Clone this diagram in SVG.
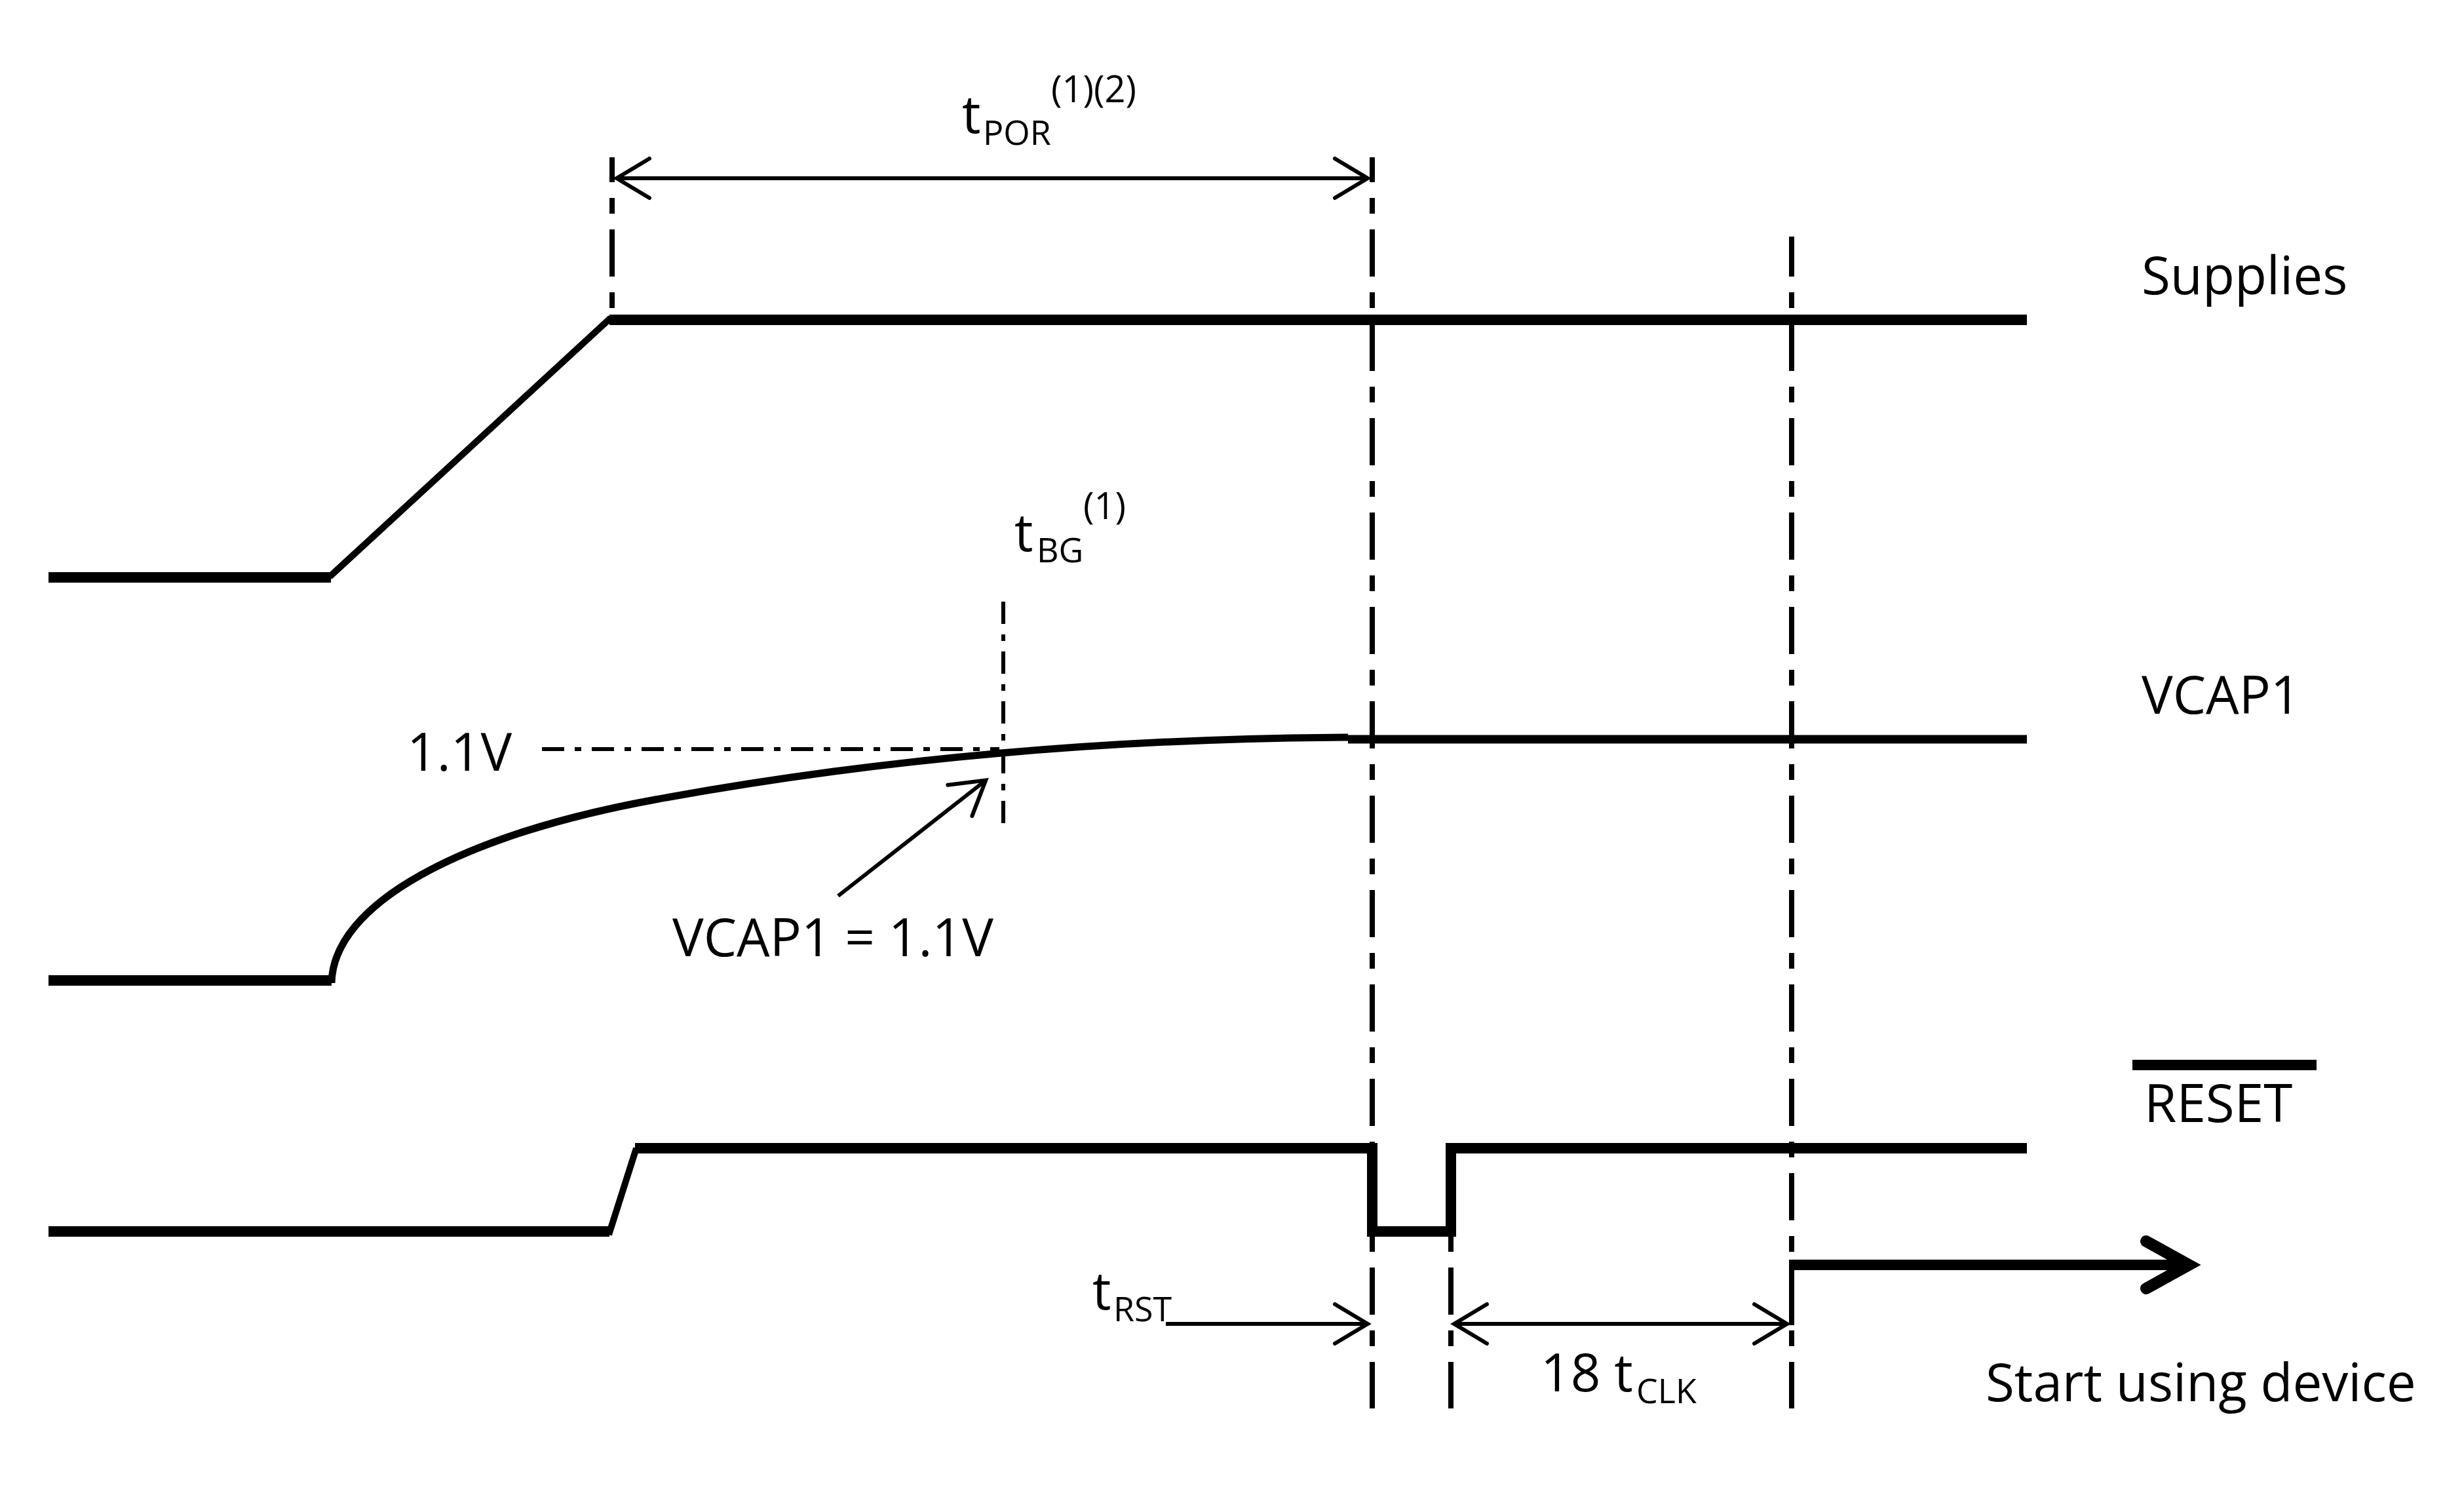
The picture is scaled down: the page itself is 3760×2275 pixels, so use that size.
<svg xmlns="http://www.w3.org/2000/svg" width="3760" height="2275" viewBox="0 0 3760 2275">
<defs>
<style>
.sig{fill:none;stroke:#000;stroke-width:16;stroke-linejoin:miter;stroke-linecap:butt}
.edge{fill:none;stroke:#000;stroke-width:10}
.ref{fill:none;stroke:#000;stroke-width:8;stroke-dasharray:72 24 24 24}
.thin{fill:none;stroke:#000;stroke-width:6}
.dd{fill:none;stroke:#000;stroke-width:6;stroke-dasharray:34 16 10 16}
text{font-family:"Open Sans","Liberation Sans",sans-serif;fill:#000}
.lbl{font-size:80px}
.sub{font-size:52px}
.sup{font-size:56px}
</style>
<marker id="head" viewBox="0 0 62 70" refX="57" refY="35" markerWidth="62" markerHeight="70" markerUnits="userSpaceOnUse" orient="auto-start-reverse">
<path d="M6,5 L56,35 L6,65" fill="none" stroke="#000" stroke-width="6" stroke-linecap="round"/>
</marker>
</defs>
<rect width="3760" height="2275" fill="#fff"/>

<g id="supplies">
<path class="sig" d="M74,881 H505"/>
<path class="edge" d="M503,880 L932,485"/>
<path class="sig" d="M930,488 H3093"/>
<text class="lbl" x="3268" y="449">Supplies</text>
</g>

<g id="vcap1">
<path class="sig" d="M74,1496 H506"/>
<path fill="none" stroke="#000" stroke-width="11" d="M506,1500 C508,1380 700,1275 1000,1220 C1300,1165 1650,1127 2057,1125"/>
<path fill="none" stroke="#000" stroke-width="13" d="M2057,1128 H3093"/>
<text class="lbl" x="3268" y="1089">VCAP1</text>
</g>

<g id="reset">
<path class="sig" d="M74,1879 H930"/>
<path class="edge" d="M929,1884 L971,1752"/>
<path class="sig" d="M969,1752 H2094 V1879 H2214 V1752 H3093"/>
<path class="sig" d="M3254,1625 H3535"/>
<text class="lbl" x="3272" y="1712">RESET</text>
</g>

<g id="start">
<path fill="none" stroke="#000" stroke-width="8" d="M2734,2022 V1930"/>
<path class="sig" d="M2730,1930 H3330"/>
<path d="M3275,1894 L3340,1930 L3275,1966" fill="none" stroke="#000" stroke-width="18" stroke-linecap="round" stroke-linejoin="miter"/>
<text class="lbl" x="3030" y="2138">Start using device</text>
</g>

<g id="connectors">
<path class="ref" d="M934,240 V480" stroke-dashoffset="34"/>
<path class="ref" d="M2094,240 V2149" stroke-dashoffset="34"/>
<path class="ref" d="M2734,361 V2149" stroke-dashoffset="11"/>
<path class="ref" d="M2214,1887 V2149" stroke-dashoffset="97"/>
<path class="dd" d="M1531,918 V1263"/>
<path class="dd" d="M827,1143 H1525"/>
<path class="thin" d="M940,272 H2088" marker-start="url(#head)" marker-end="url(#head)"/>
<path class="thin" d="M1779,2020 H2088" marker-end="url(#head)"/>
<path class="thin" d="M2218,2020 H2728" marker-start="url(#head)" marker-end="url(#head)"/>
<path class="thin" d="M1279,1367 L1505,1190" marker-end="url(#head)"/>
</g>

<g id="labels">
<text class="lbl" x="1468" y="203">t</text>
<text class="sub" x="1500" y="221">POR</text>
<text class="sup" x="1604" y="156">(1)(2)</text>
<text class="lbl" x="1548" y="841">t</text>
<text class="sub" x="1582" y="858">BG</text>
<text class="sup" x="1653" y="792">(1)</text>
<text class="lbl" x="621" y="1176">1.1V</text>
<text class="lbl" x="1026" y="1459">VCAP1 = 1.1V</text>
<text class="lbl" x="1667" y="1998">t</text>
<text class="sub" x="1699" y="2016">RST</text>
<text class="lbl" x="2351" y="2123">18 t</text>
<text class="sub" x="2497" y="2141">CLK</text>
</g>
</svg>
